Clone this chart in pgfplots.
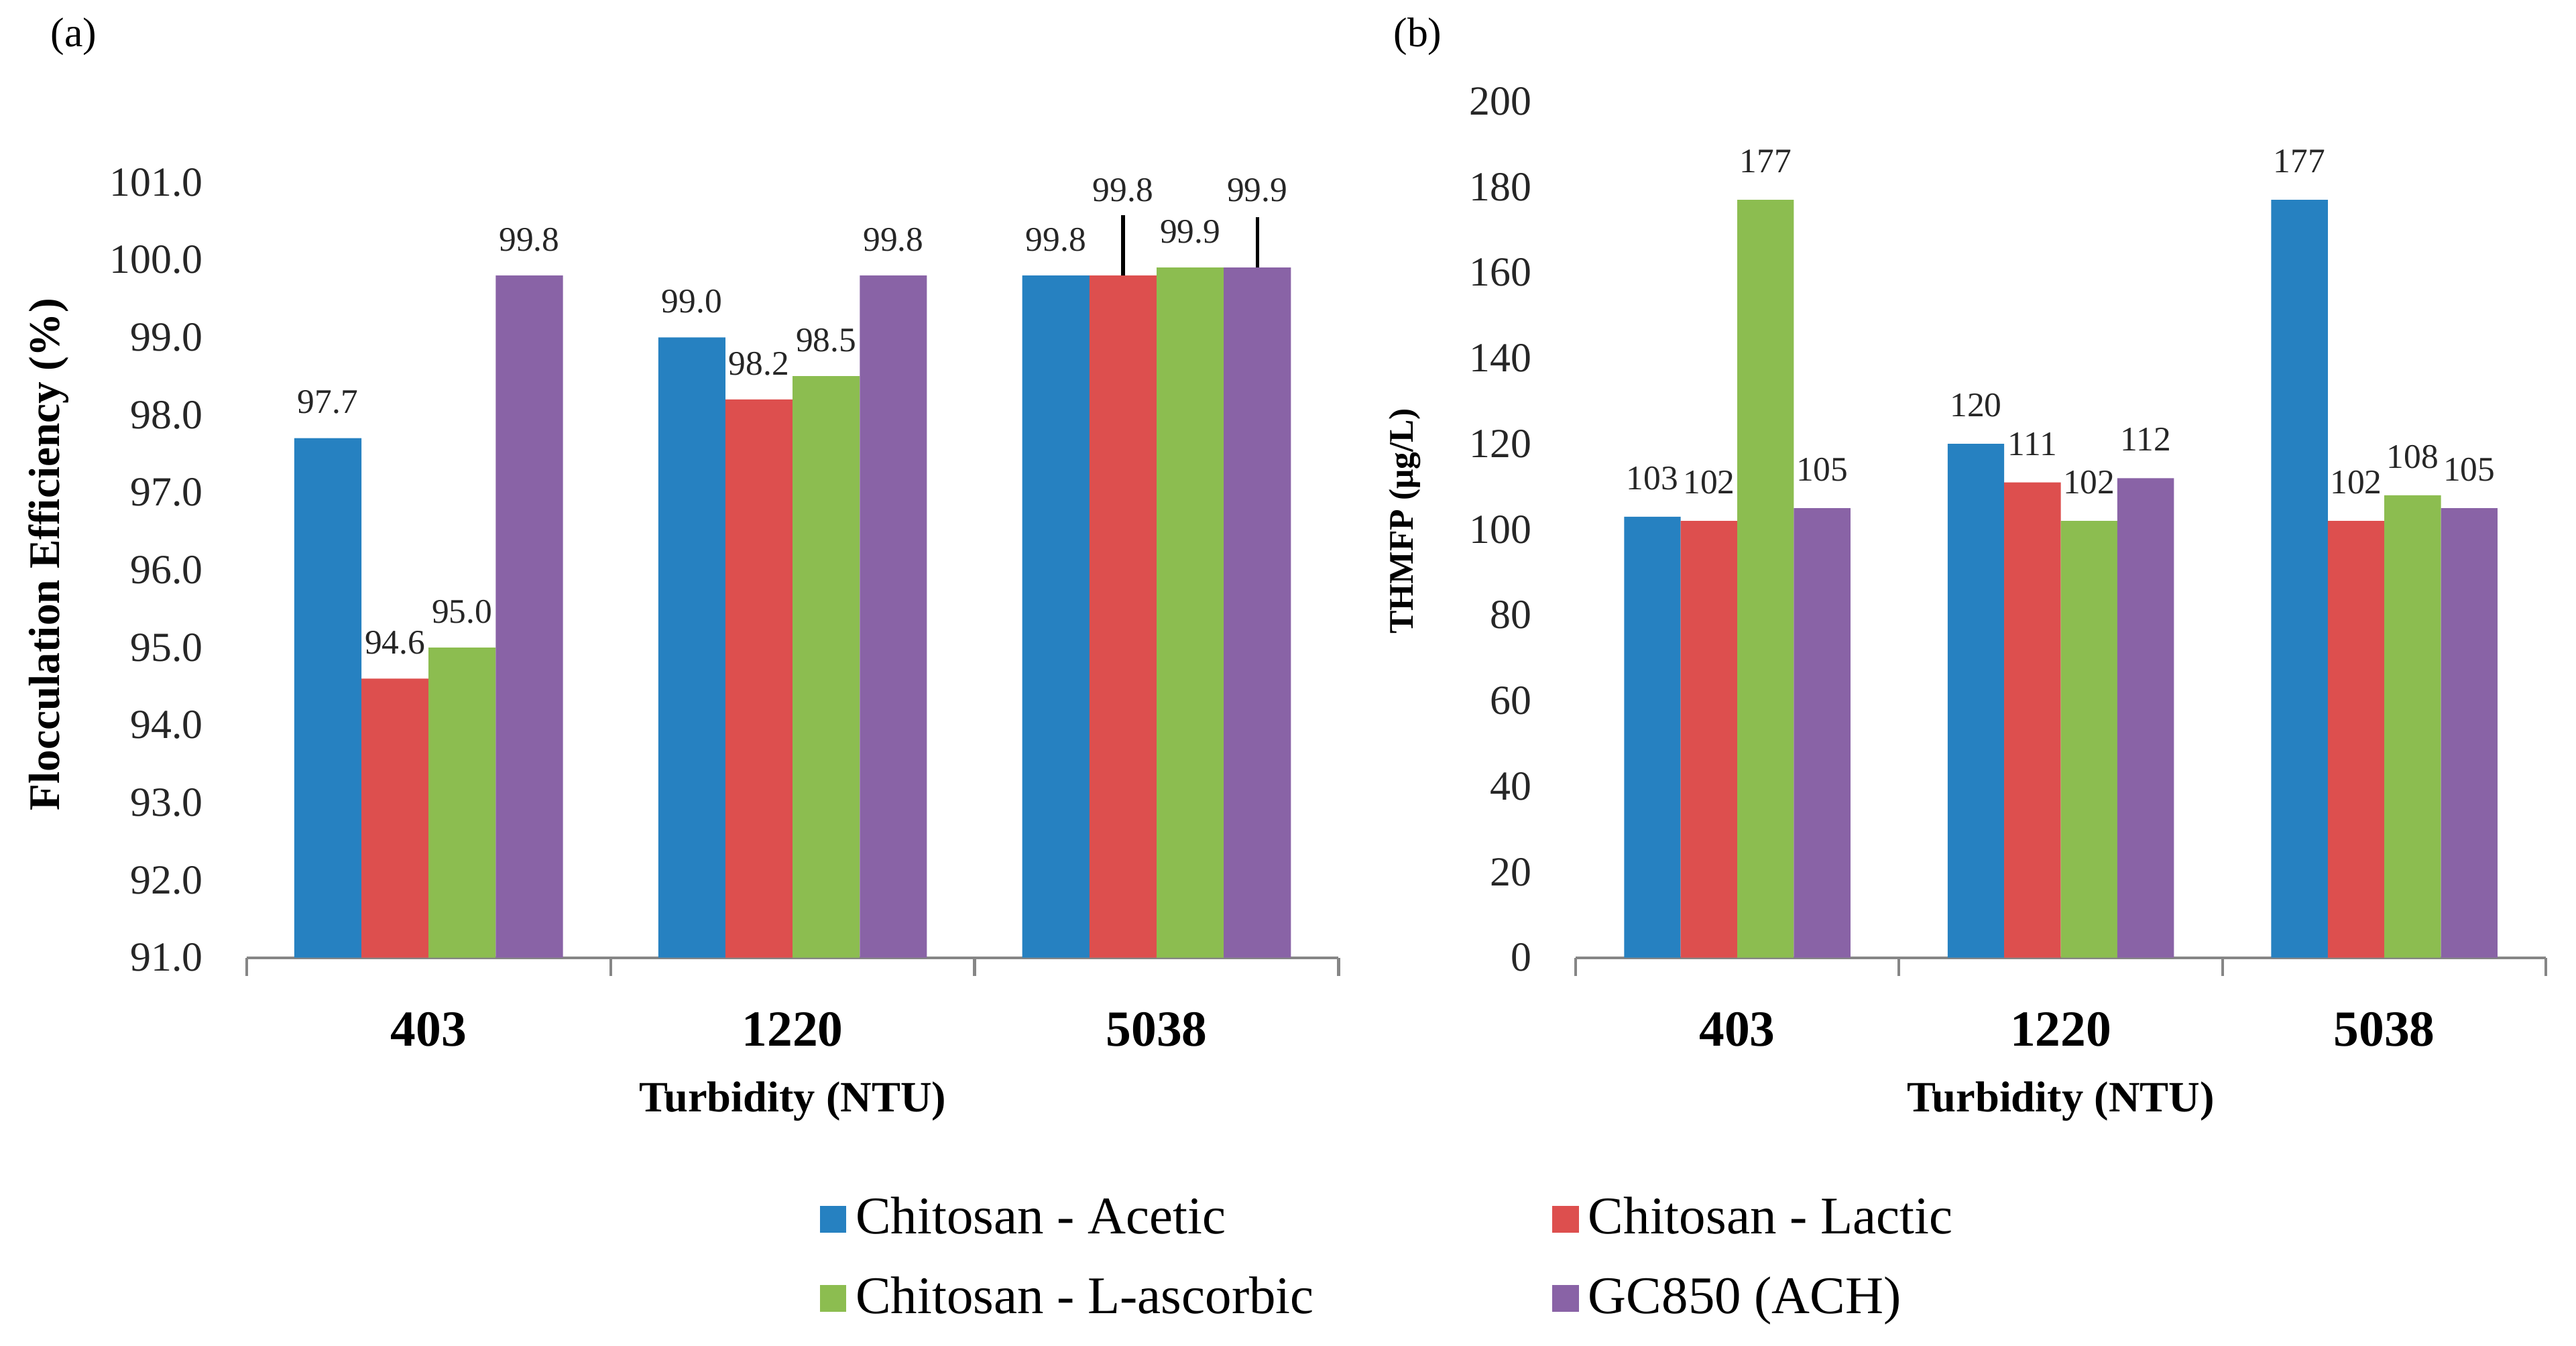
\documentclass[border=0pt]{standalone}
\usepackage{fontspec}
\setmainfont{Liberation Serif}
\usepackage{pgfplots}
\pgfplotsset{compat=1.18}
\definecolor{cA}{RGB}{38,129,193}
\definecolor{cL}{RGB}{221,79,78}
\definecolor{cS}{RGB}{140,189,80}
\definecolor{cG}{RGB}{137,99,166}
\definecolor{axgray}{RGB}{134,134,134}
\pgfplotsset{
  common/.style={
    scale only axis,
    axis lines*=left,
    y axis line style={draw=none},
    x axis line style={draw=axgray, line width=0.6pt},
    xmin=-0.5, xmax=2.5,
    xtick={0,1,2},
    xticklabels={403,1220,5038},
    major tick length=0pt,
    minor xtick={-0.5,0.5,1.5,2.5},
    minor tick length=4pt,
    tick align=outside,
    xtick style={draw=axgray, line width=0.6pt},
    ytick style={draw=none},
    xticklabel style={font=\bfseries\fontsize{11}{13}\selectfont, anchor=center, yshift=-15.6pt},
    yticklabel style={font=\fontsize{9}{11}\selectfont, text=black!85, xshift=-6pt},
    xlabel={Turbidity (NTU)},
    xlabel style={font=\bfseries\fontsize{9.4}{11}\selectfont, at={(axis description cs:0.5,0)}, anchor=center, yshift=-31.3pt},
    ybar=0pt,
    /pgf/number format/assume math mode=true,
    nodes near coords,
    visualization depends on={\thisrow{off} \as \myoff},
    every node near coord/.append style={font=\fontsize{7.5}{9}\selectfont, text=black!85, anchor=center},
  }
}
\begin{document}
\begin{tikzpicture}
\path[use as bounding box] (0pt,0pt) rectangle (560pt,292.54pt);
\node[font=\fontsize{9}{11}\selectfont] at (16pt,284.6pt) {(a)};
\node[font=\fontsize{9}{11}\selectfont] at (308.2pt,284.6pt) {(b)};
% ---------------- (a) ----------------
\begin{axis}[common,
  at={(53.6pt,84.3pt)}, anchor=south west,
  width=237.4pt, height=168.6pt,
  ymin=91, ymax=101,
  ytick={91,92,...,101},
  yticklabel style={/pgf/number format/fixed, /pgf/number format/fixed zerofill, /pgf/number format/precision=1},
  ylabel={Flocculation Efficiency (\%)},
  ylabel style={font=\bfseries\fontsize{9.5}{11.5}\selectfont, at={(axis description cs:-0.181,0.520)}, anchor=center},
  bar width=14.6pt,
  nodes near coords={\pgfmathprintnumber[fixed,fixed zerofill,precision=1]{\pgfplotspointmeta}},
  every node near coord/.append style={yshift=7.8pt+\myoff pt},
  error bars/y dir=plus,
  error bars/y explicit,
  error bars/error mark=none,
  error bars/error bar style={black, line width=0.8pt},
  legend columns=2,
  legend cell align=left,
  legend image code/.code={\fill[#1] (0pt,-2.9pt) rectangle (5.8pt,2.9pt);},
  legend style={at={(axis description cs:0.524,-0.296)}, anchor=north west, draw=none, fill=none, inner sep=0pt, font=\fontsize{11.5}{13.8}\selectfont, row sep=3.8pt},
]
\addplot[fill=cA, draw=none] table[x=x, y=y, y error=e] {
x y e off
0 97.7 0 0
1 99.0 0 0
2 99.8 0 0
};
\addlegendentry{\makebox[149.5pt][l]{Chitosan - Acetic}}
\addplot[fill=cL, draw=none] table[x=x, y=y, y error=e] {
x y e off
0 94.6 0 0
1 98.2 0 0
2 99.8 0.78 10.7
};
\addlegendentry{Chitosan - Lactic}
\addplot[fill=cS, draw=none] table[x=x, y=y, y error=e] {
x y e off
0 95.0 0 0
1 98.5 0 0
2 99.9 0 0
};
\addlegendentry{\makebox[149.5pt][l]{Chitosan - L-ascorbic}}
\addplot[fill=cG, draw=none] table[x=x, y=y, y error=e] {
x y e off
0 99.8 0 0
1 99.8 0 0
2 99.9 0.65 9.0
};
\addlegendentry{GC850 (ACH)}
\end{axis}
% ---------------- (b) ----------------
\begin{axis}[common,
  at={(342.5pt,84.3pt)}, anchor=south west,
  width=211pt, height=186.2pt,
  ymin=0, ymax=200,
  ytick={0,20,...,200},
  ylabel={THMFP (μg/L)},
  ylabel style={font=\bfseries\fontsize{7.5}{9}\selectfont, at={(axis description cs:-0.176,0.510)}, anchor=center},
  bar width=12.3pt,
  every node near coord/.append style={yshift=8.4pt+\myoff pt},
]
\addplot[fill=cA, draw=none] table[x=x, y=y] {
x y off
0 103 0
1 120 0
2 177 0
};
\addplot[fill=cL, draw=none] table[x=x, y=y] {
x y off
0 102 0
1 111 0
2 102 0
};
\addplot[fill=cS, draw=none] table[x=x, y=y] {
x y off
0 177 0
1 102 0
2 108 0
};
\addplot[fill=cG, draw=none] table[x=x, y=y] {
x y off
0 105 0
1 112 0
2 105 0
};
\end{axis}
\end{tikzpicture}
\end{document}
